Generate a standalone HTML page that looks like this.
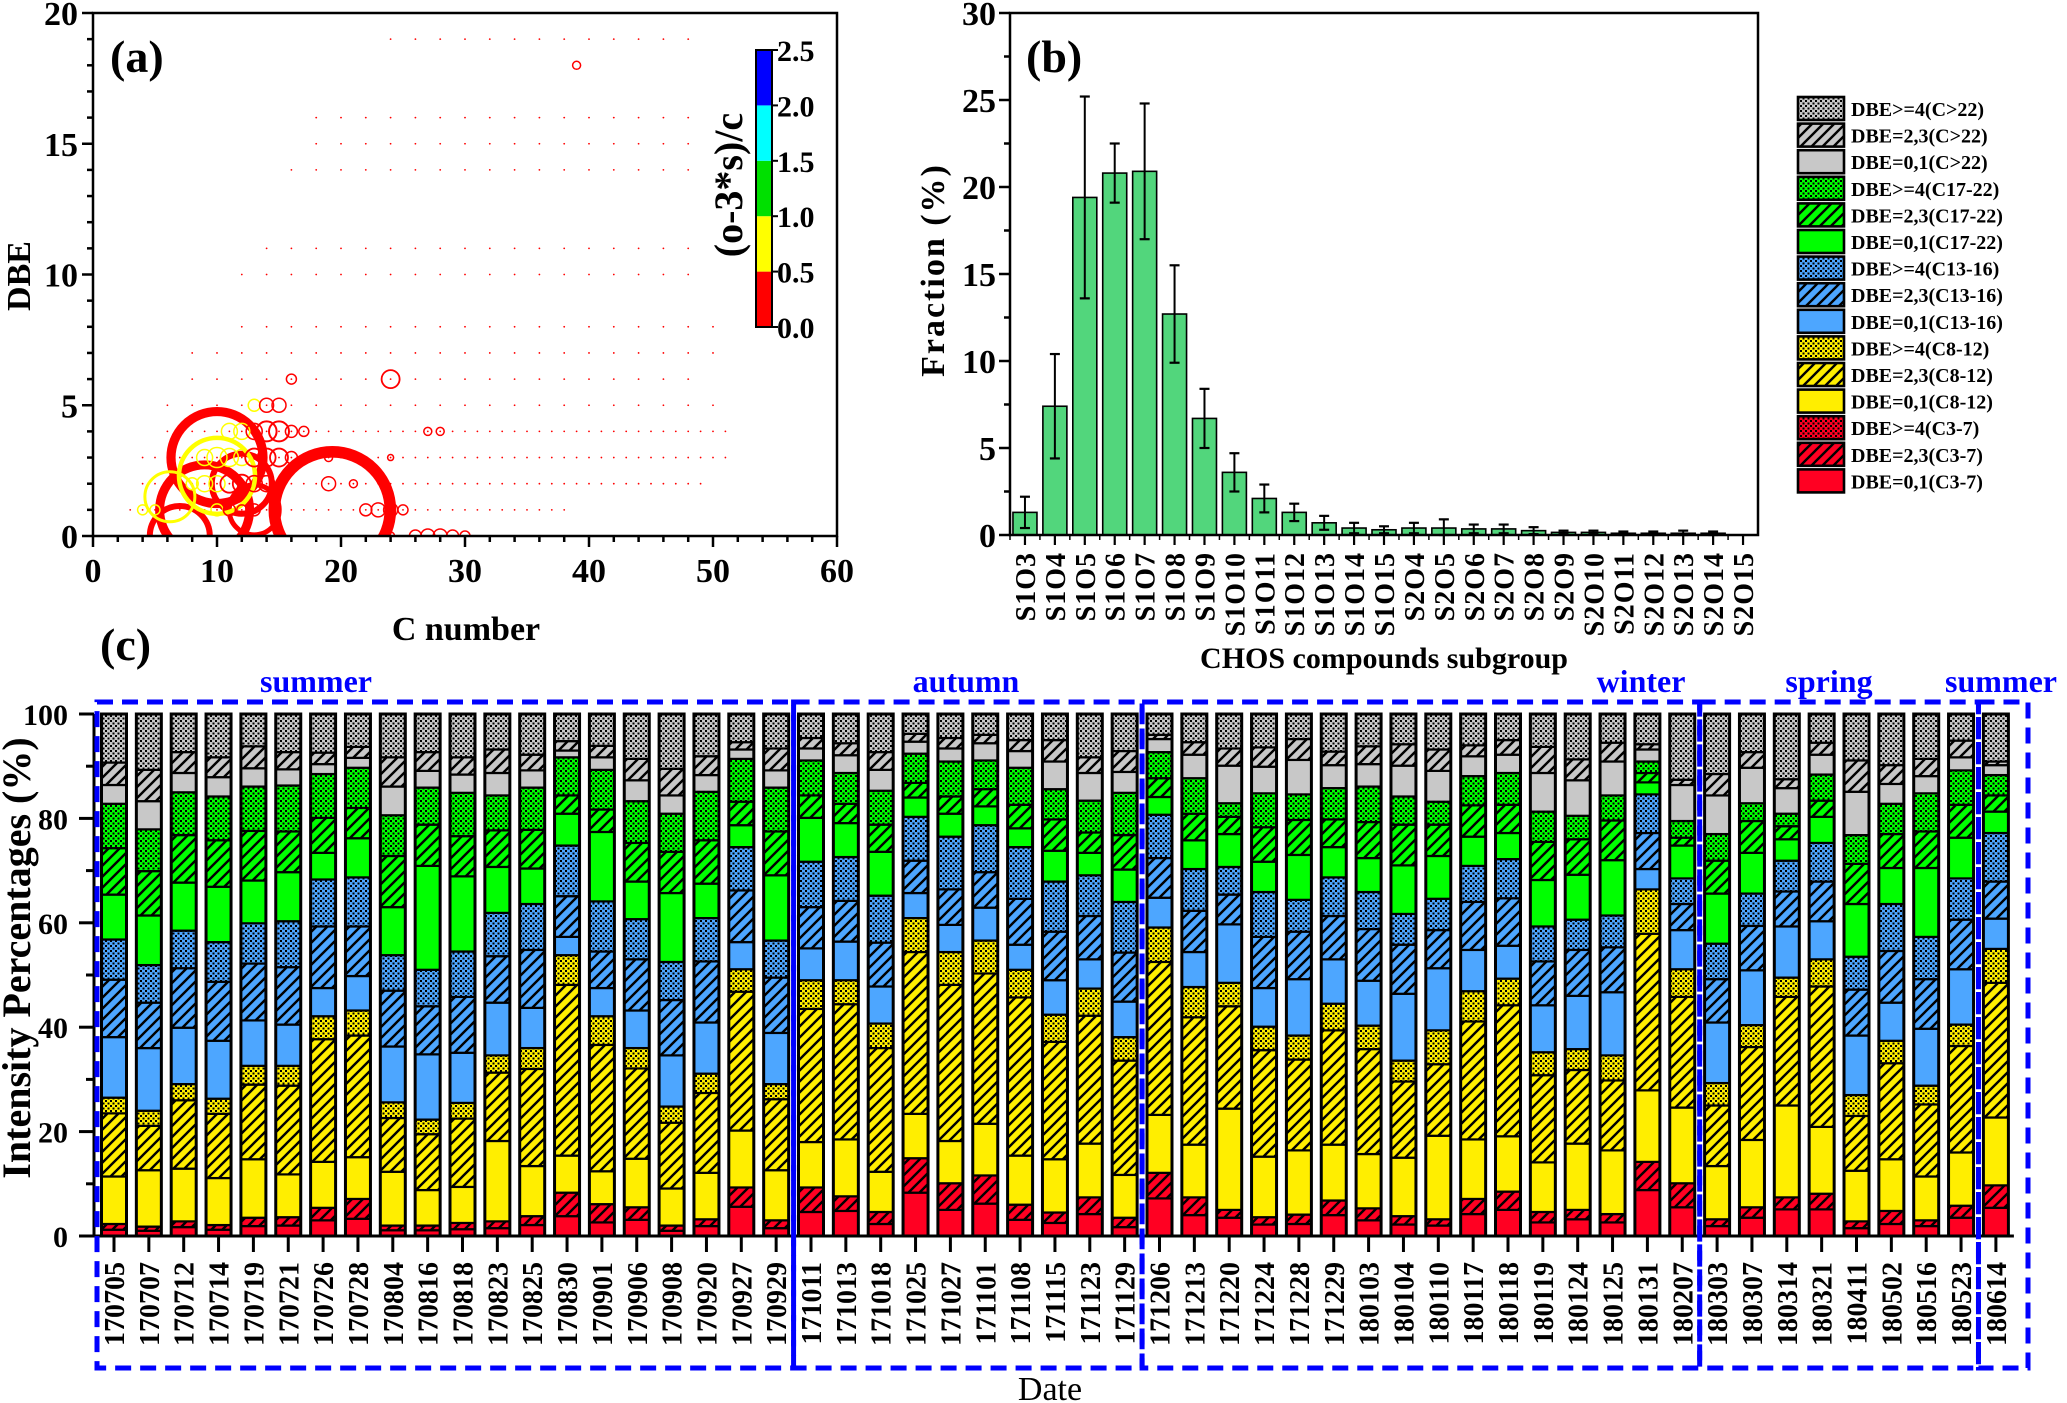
<!DOCTYPE html>
<html><head><meta charset="utf-8"><style>
html,body{margin:0;padding:0;background:#fff}
svg{display:block}
text{font-family:"Liberation Serif",serif;fill:#000}
</style></head><body>
<svg id="fig" xmlns="http://www.w3.org/2000/svg" width="2067" height="1403" viewBox="0 0 2067 1403">
<defs>
<clipPath id="clipA"><rect x="93" y="13" width="744" height="523"/></clipPath>
</defs>
<rect width="2067" height="1403" fill="#fff"/>
<g id="panelA"></g>
<g id="panelB"></g>
<g id="panelC"></g>
</svg>
<script>
// ---------- Panel (a) data ----------
const bubbleC = [19.3,10,9,12,13,7,10,6.2, 11,12,13,14,15,16,17,27,28, 9,10,11,12,13,14,15,16,19,24, 8,9,10,11,12,13,14,19,21, 4,5,10,11,12,13,22,23,24,25, 26,27,28,29,30,24, 13,14,15, 16,24, 39];
const bubbleDBE = [1,3,1,2,1,0,2.3,1.5, 4,4,4,4,4,4,4,4,4, 3,3,3,3,3,3,3,3,3,3, 2,2,2,2,2,2,2,2,2, 1,1,1,1,1,1,1,1,1,1, 0,0,0,0,0,0, 5,5,5, 6,6, 18];
const bubbleIntensity = [3364,2116,2025,900,625,900,1444,625, 64,64,64,100,100,36,25,16,16, 64,100,81,64,81,81,81,36,16,9, 36,64,64,81,81,64,64,49,16, 25,25,36,36,25,36,36,49,49,25, 36,49,49,36,25,16, 36,49,49, 25,81, 16];
const bubbleRatio = [0.2,0.2,0.2,0.2,0.2,0.2,0.7,0.7, 0.7,0.7,0.3,0.3,0.3,0.2,0.2,0.2,0.2, 0.7,0.7,0.7,0.7,0.3,0.3,0.3,0.2,0.2,0.2, 0.7,0.7,0.7,0.3,0.3,0.3,0.2,0.2,0.2, 0.7,0.7,0.7,0.2,0.2,0.2,0.2,0.2,0.2,0.2, 0.2,0.2,0.2,0.2,0.2,0.2, 0.7,0.3,0.3, 0.2,0.2, 0.2];
const dotDBE = [19,16,15,14,11,10,8,7,6,5,4,3,2,1,0];
const dotCmin = [24,18,18,16,14,12,12,8,8,6,6,4,4,3,4];
const dotCmax = [49,49,49,49,49,49,51,51,49,51,51,51,49,38,33];
const xTicksA = [0,10,20,30,40,50,60];
const yTicksA = [0,5,10,15,20];
const cbLevels = [0,0.5,1.0,1.5,2.0,2.5];
const cbLabels = ["0.0","0.5","1.0","1.5","2.0","2.5"];

// ---------- Panel (b) data ----------
const subgroups = ["S1O3","S1O4","S1O5","S1O6","S1O7","S1O8","S1O9","S1O10","S1O11","S1O12","S1O13","S1O14","S1O15","S2O4","S2O5","S2O6","S2O7","S2O8","S2O9","S2O10","S2O11","S2O12","S2O13","S2O14","S2O15"];
const fraction = [1.3,7.4,19.4,20.8,20.9,12.7,6.7,3.6,2.1,1.3,0.7,0.4,0.3,0.4,0.4,0.35,0.35,0.25,0.15,0.15,0.1,0.1,0.1,0.1,0];
const fractionErr = [0.9,3.0,5.8,1.7,3.9,2.8,1.7,1.1,0.8,0.5,0.4,0.3,0.2,0.3,0.5,0.25,0.25,0.2,0.1,0.1,0.1,0.1,0.15,0.1,0];
const yTicksB = [0,5,10,15,20,25,30];

// ---------- Panel (c) data ----------
const dates = ["170705","170707","170712","170714","170719","170721","170726","170728","170804","170816","170818","170823","170825","170830","170901","170906","170908","170920","170927","170929","171011","171013","171018","171025","171027","171101","171108","171115","171123","171129","171206","171213","171220","171224","171228","171229","180103","180104","180110","180117","180118","180119","180124","180125","180131","180207","180303","180307","180314","180321","180411","180502","180516","180523","180614"];
const R0 = [1.2,1.0,1.7,1.2,1.9,2.0,3.0,3.3,1.1,1.1,1.3,1.5,2.1,3.8,2.6,3.1,1.0,1.9,5.6,1.5,4.6,4.8,2.3,8.3,5.0,6.2,3.1,2.5,4.2,1.7,7.2,4.0,3.5,2.2,2.3,4.0,3.0,2.2,2.0,4.2,5.0,2.6,3.2,2.6,8.8,5.5,1.9,3.5,5.1,5.1,1.5,2.3,1.9,3.5,5.4];
const R23 = [1.1,0.8,1.1,0.9,1.6,1.6,2.4,3.8,0.9,0.9,1.2,1.3,1.7,4.5,3.5,2.4,1.0,1.3,3.7,1.5,4.7,2.8,2.3,6.6,5.1,5.4,2.9,2.0,3.2,1.8,4.9,3.4,1.5,1.4,1.8,2.8,2.3,1.6,1.2,2.9,3.5,2.0,1.8,1.6,5.4,4.6,1.3,2.0,2.3,3.0,1.3,2.5,1.1,2.3,4.3];
const R4 = [0,0,0,0,0,0,0,0,0,0,0,0,0,0,0,0,0,0,0,0,0,0,0,0,0,0,0,0,0,0,0,0,0,0,0,0,0,0,0,0,0,0,0,0,0,0,0,0,0,0,0,0,0,0,0];
const Y0 = [9.1,10.8,10.1,9.0,11.2,8.2,8.8,8.0,10.3,6.8,6.9,15.4,9.6,7.1,6.3,9.3,7.1,8.9,10.9,9.6,8.7,10.9,7.7,8.5,8.1,9.9,9.4,10.2,10.3,8.2,11.1,10.1,19.4,11.6,12.3,10.7,10.4,11.2,16.0,11.4,10.6,9.5,12.7,12.2,13.7,14.5,10.2,12.9,17.6,12.8,9.7,9.9,8.4,10.2,13.0];
const Y23 = [12.1,8.5,13.1,12.3,14.3,17.0,23.5,23.3,10.3,10.7,13.1,13.1,18.6,32.7,24.2,17.3,12.6,15.3,26.6,13.6,25.5,25.9,23.7,31.0,29.9,28.8,30.3,22.5,24.5,21.9,29.3,24.4,19.6,20.4,17.4,21.9,20.1,14.6,13.7,22.6,25.1,16.7,14.1,13.4,30.0,21.2,11.6,17.8,20.8,26.9,10.5,18.4,13.8,20.4,25.8];
const Y4 = [3.0,2.9,3.1,2.9,3.6,3.8,4.4,4.8,3.0,2.8,3.0,3.3,4.0,5.7,5.5,3.9,3.1,3.7,4.3,2.9,5.5,4.6,4.7,6.5,6.3,6.3,5.3,5.2,5.2,4.5,6.6,5.8,4.5,4.5,4.6,5.1,4.5,4.0,6.5,5.8,5.1,4.4,4.0,4.8,8.5,5.3,4.3,4.2,3.7,5.2,4.0,4.3,3.6,4.1,6.5];
const B0 = [11.6,12.0,10.8,11.1,8.7,7.9,5.4,6.6,10.7,12.5,9.6,10.1,7.7,3.5,5.4,7.2,9.8,9.8,5.2,9.8,6.1,7.4,7.1,4.8,5.2,6.3,4.8,6.6,5.6,6.8,5.7,6.7,11.2,7.4,10.8,8.5,8.6,12.8,11.9,7.9,6.3,9.0,10.2,12.1,3.9,7.5,11.6,10.5,9.8,7.3,11.4,7.3,10.9,10.6,5.8];
const B23 = [11.0,8.7,11.4,11.3,10.9,11.0,11.8,9.5,10.7,9.2,10.7,8.9,11.1,7.8,7.0,9.8,10.6,11.7,9.9,10.6,7.9,7.8,8.4,6.2,6.8,6.8,8.8,9.3,8.3,9.4,7.6,7.9,5.7,9.8,9.1,8.3,9.9,9.4,7.3,9.2,9.1,8.4,8.8,8.6,6.9,5.0,8.3,8.5,6.7,7.6,8.8,9.9,9.5,9.5,7.1];
const B4 = [7.7,7.2,7.2,7.6,7.7,8.8,9.0,9.4,6.8,7.0,8.7,8.3,8.8,9.7,9.6,7.7,7.3,8.3,8.3,7.1,8.7,8.4,9.0,8.4,10.1,9.0,9.9,9.6,7.8,9.7,8.3,8.0,5.3,8.6,6.1,7.4,7.1,5.9,6.0,6.9,7.5,6.7,5.8,6.1,7.4,4.9,6.8,6.2,5.9,7.4,6.3,9.0,8.1,7.9,9.3];
const G0 = [8.6,9.5,9.2,10.6,8.2,9.4,5.1,7.5,9.2,19.9,14.4,8.8,6.8,6.1,13.3,7.2,13.2,6.6,4.2,12.5,8.4,6.5,8.4,3.7,4.4,3.6,3.6,5.9,4.3,6.2,3.4,5.5,6.3,5.8,8.6,5.8,6.5,9.3,8.2,5.6,5.0,8.9,8.6,10.6,2.3,6.3,9.6,7.8,4.1,5.0,10.1,6.9,13.2,7.8,4.1];
const G23 = [8.9,8.5,9.1,8.9,9.5,7.8,6.7,5.8,9.8,7.9,7.7,7.0,7.4,3.5,4.3,7.4,7.9,8.3,4.5,8.4,4.3,3.7,5.2,2.8,3.3,3.3,4.5,6.0,3.9,6.6,3.6,5.1,3.3,6.6,6.7,5.3,6.9,7.8,6.0,6.0,5.4,7.3,6.8,7.6,1.8,1.5,6.3,6.1,2.5,3.1,7.7,6.5,7.0,6.3,3.1];
const G4 = [8.5,8.0,8.2,8.4,8.5,8.8,8.4,7.7,7.8,7.1,8.3,6.7,8.1,7.3,7.6,8.0,7.3,9.3,8.2,8.4,6.7,5.9,6.5,5.6,6.7,5.5,7.1,5.8,6.1,8.1,5.0,6.8,2.6,6.5,4.9,6.0,6.8,5.4,4.4,5.6,6.1,5.8,4.5,4.8,2.2,3.2,5.1,3.4,2.4,5.0,5.5,5.8,7.3,6.6,3.9];
const K0 = [3.6,5.4,3.7,3.7,3.5,3.1,1.9,1.9,5.5,3.2,3.5,4.3,3.3,1.3,2.4,4.0,3.5,3.2,1.8,3.3,2.3,3.4,4.0,2.3,2.5,3.3,3.2,5.3,5.3,4.0,2.5,4.5,7.2,5.1,6.6,4.4,4.3,5.9,5.9,3.8,3.5,7.4,6.8,6.5,2.3,6.9,7.4,6.8,4.9,3.8,8.3,3.8,3.3,2.5,1.9];
const K23 = [4.3,6.0,4.0,3.8,4.2,3.3,2.2,2.1,5.6,3.6,3.3,4.5,3.0,1.8,2.2,4.1,5.1,3.6,1.4,4.2,2.0,2.3,3.4,1.5,2.0,1.6,2.1,4.1,3.0,4.0,0.8,2.4,3.3,3.7,4.0,2.6,3.4,4.1,4.1,2.1,2.8,5.0,4.0,3.6,1.0,1.0,4.1,3.0,1.7,2.3,6.0,3.6,3.3,3.2,0.7];
const K4 = [9.3,10.7,7.3,8.3,6.2,7.3,7.4,6.3,8.3,7.3,8.3,6.8,7.8,5.2,6.1,8.6,10.5,8.1,5.4,6.6,4.6,5.6,7.3,3.8,4.6,4.0,5.0,5.0,8.3,7.1,4.0,5.4,6.6,6.4,4.8,7.2,6.2,5.8,6.8,6.0,5.0,6.3,8.7,5.5,5.8,12.6,11.5,7.3,12.5,5.5,8.9,9.8,8.6,5.1,9.1];
const seriesNames = ["DBE=0,1(C3-7)","DBE=2,3(C3-7)","DBE>=4(C3-7)","DBE=0,1(C8-12)","DBE=2,3(C8-12)","DBE>=4(C8-12)","DBE=0,1(C13-16)","DBE=2,3(C13-16)","DBE>=4(C13-16)","DBE=0,1(C17-22)","DBE=2,3(C17-22)","DBE>=4(C17-22)","DBE=0,1(C>22)","DBE=2,3(C>22)","DBE>=4(C>22)"];
const seasonNames = ["summer","autumn","winter","spring","summer"];
const seasonStart = [0,20,30,46,54];
const seasonEnd = [19,29,45,53,54];
const yTicksC = [0,20,40,60,80,100];

const series = [R0,R23,R4,Y0,Y23,Y4,B0,B23,B4,G0,G23,G4,K0,K23,K4];
const baseColors = ["#ff0022","#ffee00","#4da6ff","#00ff00","#c8c8c8"];
const NS = "http://www.w3.org/2000/svg";
function mk(tag, attrs, parent){const e=document.createElementNS(NS,tag);for(const k in attrs)e.setAttribute(k,attrs[k]);if(parent)parent.appendChild(e);return e;}
function txt(parent, x, y, s, size, opts){opts=opts||{};const t=mk('text',{x:x,y:y,'font-size':size,'font-weight':opts.weight||'bold','text-anchor':opts.anchor||'middle'},parent);if(opts.rot!==undefined)t.setAttribute('transform','rotate('+opts.rot+' '+x+' '+y+')');if(opts.fill)t.setAttribute('style','fill:'+opts.fill);if(opts.ls)t.setAttribute('letter-spacing',opts.ls);t.textContent=s;return t;}

// patterns
const defs = document.querySelector('defs');
baseColors.forEach((c,ci)=>{
  const ph = mk('pattern',{id:'hatch'+ci,patternUnits:'userSpaceOnUse',width:11,height:11},defs);
  mk('rect',{width:11,height:11,fill:c},ph);
  mk('path',{d:'M-2,13 L13,-2 M-2,2 L2,-2 M9,13 L13,9',stroke:'#000','stroke-width':2.4},ph);
  const pd = mk('pattern',{id:'dots'+ci,patternUnits:'userSpaceOnUse',width:5,height:5},defs);
  mk('rect',{width:5,height:5,fill:c},pd);
  mk('rect',{x:0,y:0,width:2,height:2,fill:'#000'},pd);
  mk('rect',{x:2.5,y:2.5,width:2,height:2,fill:'#000'},pd);
});
function segFill(si){const ci=Math.floor(si/3), k=si%3; return k===0?baseColors[ci]:(k===1?'url(#hatch'+ci+')':'url(#dots'+ci+')');}

// ================= Panel A =================
(function(){
  const g = document.getElementById('panelA');
  const X0=93, X1=837, Y0=536, Y1=13;
  const xs = c => X0 + (c/60)*(X1-X0);
  const ys = d => Y0 - (d/20)*(Y0-Y1);
  const colorOf = r => r<0.5?'#ff0000':r<1?'#ffff00':r<1.5?'#00e000':r<2?'#00ffff':'#0000ff';
  const pg = mk('g',{'clip-path':'url(#clipA)'},g);
  for(let i=0;i<dotDBE.length;i++){
    for(let c=dotCmin[i]; c<=dotCmax[i]; c+= (dotDBE[i]>=5?2:1)){
      const d = mk('circle',{cx:xs(c),cy:ys(dotDBE[i]),r:0.9,fill:'#ff0000'},pg);
      
      
    }
  }
  for(let i=0;i<bubbleC.length;i++){
    const r = Math.sqrt(bubbleIntensity[i]);
    const sw = bubbleRatio[i]>=0.5 ? Math.max(1.5,r*0.12) : Math.max(1.5,r*0.2);
    const b = mk('circle',{cx:xs(bubbleC[i]),cy:ys(bubbleDBE[i]),r:r,fill:'none',stroke:colorOf(bubbleRatio[i]),'stroke-width':sw},pg);
    
    
  }
  mk('rect',{x:X0,y:Y1,width:X1-X0,height:Y0-Y1,fill:'none',stroke:'#000','stroke-width':2.5},g);
  for(let c=0;c<=60;c+=2){const L=(c%10===0)?11:6;mk('line',{x1:xs(c),x2:xs(c),y1:Y0,y2:Y0+L,stroke:'#000','stroke-width':2.5},g);}
  for(let d=0;d<=20;d+=1){const L=(d%5===0)?11:6;mk('line',{x1:X0,x2:X0-L,y1:ys(d),y2:ys(d),stroke:'#000','stroke-width':2.5},g);}
  xTicksA.forEach(v=>{const t=txt(g,xs(v),582,String(v),34);});
  yTicksA.forEach(v=>{const t=txt(g,78,ys(v)+12,String(v),34,{anchor:'end'});});
  const xt=txt(g,466,640,'C number',34);
  const yt=txt(g,30,276,'DBE',34,{rot:-90});
  const pl=txt(g,110,72,'(a)',46,{anchor:'start'});
  // colorbar
  const cbX=756, cbW=16, cbTop=50, cbBot=327;
  const cy = v => cbBot - (v/2.5)*(cbBot-cbTop);
  const cbCols=['#ff0000','#ffff00','#00e000','#00ffff','#0000ff'];
  const cb = mk('g',{},g);  
  for(let i=0;i<5;i++) mk('rect',{x:cbX,y:cy(cbLevels[i+1]),width:cbW,height:cy(cbLevels[i])-cy(cbLevels[i+1]),fill:cbCols[i]},cb);
  mk('rect',{x:cbX,y:cbTop,width:cbW,height:cbBot-cbTop,fill:'none',stroke:'#000','stroke-width':2},cb);
  cbLevels.forEach((v,i)=>{mk('line',{x1:cbX+cbW,x2:cbX+cbW+6,y1:cy(v),y2:cy(v),stroke:'#000','stroke-width':2},cb);const t=txt(cb,cbX+cbW+5,cy(v)+11,cbLabels[i],30,{anchor:'start'});});
  const ct=txt(cb,742,185,'(o-3*s)/c',40,{rot:-90});
})();

// ================= Panel B =================
(function(){
  const g = document.getElementById('panelB');
  const X0=1010, X1=1758, Y0=535, Y1=13;
  const step=(X1-X0)/subgroups.length;
  const xc = i => X0 + step*(i+0.5);
  const ys = v => Y0 - (v/30)*(Y0-Y1);
  subgroups.forEach((s,i)=>{
    const v=fraction[i];
    if(v>0){const b=mk('rect',{x:xc(i)-12,y:ys(v),width:24,height:Y0-ys(v),fill:'#52d67c',stroke:'#000','stroke-width':1.6},g);
      
      }
    const e=fractionErr[i];
    if(e>0){const eg=mk('g',{},g);
      
      
      mk('line',{x1:xc(i),x2:xc(i),y1:ys(v+e),y2:ys(Math.max(0,v-e)),stroke:'#000','stroke-width':2},eg);
      mk('line',{x1:xc(i)-5,x2:xc(i)+5,y1:ys(v+e),y2:ys(v+e),stroke:'#000','stroke-width':2.2},eg);
      mk('line',{x1:xc(i)-5,x2:xc(i)+5,y1:ys(Math.max(0,v-e)),y2:ys(Math.max(0,v-e)),stroke:'#000','stroke-width':2.2},eg);}
    mk('line',{x1:xc(i),x2:xc(i),y1:Y0,y2:Y0+10,stroke:'#000','stroke-width':2.2},g);
    mk('line',{x1:X0+step*i,x2:X0+step*i,y1:Y0,y2:Y0+5,stroke:'#000','stroke-width':1.5},g);
    const t=txt(g,xc(i)+10,552,s,28,{anchor:'end',rot:-90,ls:'1'});
    
    
  });
  mk('rect',{x:X0,y:Y1,width:X1-X0,height:Y0-Y1,fill:'none',stroke:'#000','stroke-width':2.5},g);
  for(let v=0;v<=30;v+=2.5){const L=(v%5===0)?11:6;mk('line',{x1:X0,x2:X0-L,y1:ys(v),y2:ys(v),stroke:'#000','stroke-width':2.5},g);}
  yTicksB.forEach(v=>{const t=txt(g,996,ys(v)+12,String(v),34,{anchor:'end'});});
  const yt=txt(g,944,270,'Fraction (%)',34,{rot:-90,ls:'2'});
  const xt=txt(g,1384,668,'CHOS compounds subgroup',30,{});
  const pl=txt(g,1026,72,'(b)',46,{anchor:'start'});
  // legend
  const lg=mk('g',{},g);  
  for(let k=0;k<15;k++){
    const si=14-k; const y=97+k*26.6;
    const e=mk('g',{},lg);
    
    
    mk('rect',{x:1798,y:y,width:46,height:23,fill:segFill(si),stroke:'#000','stroke-width':2.6},e);
    txt(e,1851,y+19,seriesNames[si],20,{anchor:'start'});
  }
})();

// ================= Panel C =================
(function(){
  const g = document.getElementById('panelC');
  const Y0=1236, Y1=714, X0=94;
  const step=34.85, bw=25;
  const xc = i => 114 + i*step;
  const ys = v => Y0 - (v/100)*(Y0-Y1);
  dates.forEach((d,i)=>{
    const bg=mk('g',{},g);
    
    
    let cum=0;
    series.forEach((arr,si)=>{
      const v=arr[i]; if(v<=0) return;
      const r=mk('rect',{x:xc(i)-bw/2,y:ys(cum+v),width:bw,height:ys(cum)-ys(cum+v),fill:segFill(si),stroke:'#000','stroke-width':2.2},bg);
      
      
      cum+=v;
    });
    mk('rect',{x:xc(i)-bw/2,y:ys(cum),width:bw,height:ys(0)-ys(cum),fill:'none',stroke:'#000','stroke-width':3},bg);
    mk('line',{x1:xc(i),x2:xc(i),y1:Y0,y2:Y0+16,stroke:'#000','stroke-width':3},g);
    const t=txt(g,xc(i)+10,1262,d,28,{anchor:'end',rot:-90});
    
    
  });
  mk('line',{x1:X0,x2:xc(dates.length-1)+18,y1:Y0,y2:Y0,stroke:'#000','stroke-width':3},g);
  mk('line',{x1:X0,x2:X0,y1:Y1,y2:Y0,stroke:'#000','stroke-width':3},g);
  for(let v=0;v<=100;v+=10){const L=(v%20===0)?15:8;mk('line',{x1:X0,x2:X0-L,y1:ys(v),y2:ys(v),stroke:'#000','stroke-width':3},g);}
  yTicksC.forEach(v=>{const t=txt(g,68,ys(v)+11,String(v),30,{anchor:'end'});});
  const yt=txt(g,30,958,'Intensity Percentages (%)',40,{rot:-90});
  const xt=txt(g,1050,1400,'Date',34,{weight:'normal'});
  const pl=txt(g,100,660,'(c)',46,{anchor:'start'});
  // season boxes
  seasonNames.forEach((s,k)=>{
    const left = k===0 ? 97 : (xc(seasonStart[k]-1)+xc(seasonStart[k]))/2;
    const right = k===seasonNames.length-1 ? 2028 : (xc(seasonEnd[k])+xc(seasonEnd[k]+1))/2;
    const b=mk('rect',{x:left,y:702,width:right-left,height:666,fill:'none',stroke:'#0000ff','stroke-width':5,'stroke-dasharray':'16,9'},g);
    
    
    const cx = k===0?316:k===1?966:k===2?1641:k===3?1829:2001;
    const t=txt(g,cx,692,s,32,{fill:'#0000ff'});
    
    
  });
})();
</script>
</body></html>
